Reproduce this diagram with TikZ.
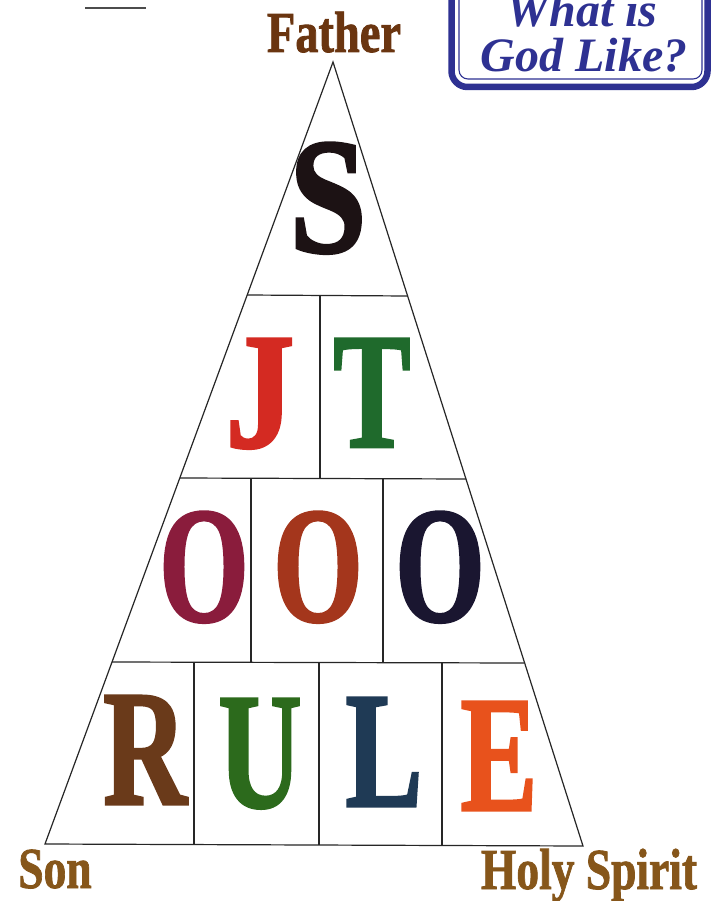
\documentclass[tikz,border=0pt]{standalone}
\usepackage{fontspec}
\setmainfont{Liberation Serif}
\newfontfamily\heavyserif{Liberation Serif}[BoldFeatures={FakeBold=1.8}]
\newfontfamily\labelserif{Liberation Serif}[BoldFeatures={FakeBold=1.5}]
\usetikzlibrary{calc}
\definecolor{titleblue}{HTML}{2E3192}
\definecolor{fatherbrown}{HTML}{6A3510}
\definecolor{labelbrown}{HTML}{86561A}
\definecolor{cS}{HTML}{1C1214}
\definecolor{cJ}{HTML}{D42A22}
\definecolor{cT}{HTML}{1F6A2C}
\definecolor{cOa}{HTML}{8A1C3C}
\definecolor{cOb}{HTML}{A4361C}
\definecolor{cOc}{HTML}{1A1630}
\definecolor{cR}{HTML}{6A3A1A}
\definecolor{cU}{HTML}{2C6A1C}
\definecolor{cL}{HTML}{1F3A55}
\definecolor{cE}{HTML}{E8521C}
\tikzset{
  bigletter/.style={anchor=base, inner sep=0pt, xscale=0.7,
    font=\heavyserif\bfseries\fontsize{165}{165}\selectfont},
  cornerlabel/.style={anchor=base, inner sep=0pt, xscale=0.8,
    font=\labelserif\bfseries\fontsize{58}{58}\selectfont},
  gridline/.style={draw=black!85, line width=1.2pt},
  titletext/.style={anchor=base, inner sep=0pt, text=titleblue,
    font=\bfseries\itshape\fontsize{48}{48}\selectfont}
}
\begin{document}
\begin{tikzpicture}[x=1pt,y=-1pt]
\useasboundingbox (0,0) rectangle (714,901);
\fill[white] (0,0) rectangle (714,901);

% stray scan mark
\draw[black!70, line width=1.2pt] (85,8) -- (146,8);

% triangle
\coordinate (apex) at (333,62);
\coordinate (bl) at (45,844);
\coordinate (br) at (583,846);
\coordinate (l1) at (247,295);
\coordinate (r1) at (407,296);
\coordinate (l2) at (180,478);
\coordinate (r2) at (466,479);
\coordinate (l3) at (112,662);
\coordinate (r3) at (524,663);
\draw[gridline, line join=miter] (apex) -- (bl) -- (br) -- cycle;
\draw[gridline] (l1) -- (r1);
\draw[gridline] (l2) -- (r2);
\draw[gridline] (l3) -- (r3);
% vertical dividers
\draw[gridline] (320,295.5) -- (320,478.5);
\draw[gridline] (251,478.5) -- (251,662.5);
\draw[gridline] (383,478.5) -- (383,662.5);
\draw[gridline] (194,662.5) -- (194,844.5);
\draw[gridline] (319,662.5) -- (319,845);
\draw[gridline] (442,662.5) -- (442,845.5);

% letters
\node[bigletter, xscale=1.2, text=cS] (S) at (328,252) {S};
\node[bigletter, xscale=1.2, text=cJ] (J) at (260,447) {J};
\node[bigletter, text=cT] (T) at (372,447) {T};
\node[bigletter, text=cOa] (O1) at (204,621) {O};
\node[bigletter, text=cOb] (O2) at (318,621) {O};
\node[bigletter, text=cOc] (O3) at (440,621) {O};
\node[bigletter, text=cR] (R) at (145,804) {R};
\node[bigletter, text=cU] (U) at (260,807) {U};
\node[bigletter, text=cL] (L) at (384,806) {L};
\node[bigletter, text=cE] (E) at (499,810) {E};

% corner labels
\node[cornerlabel, xscale=1.0, text=fatherbrown] (father) at (334,52) {Father};
\node[cornerlabel, xscale=0.98, text=labelbrown] (son) at (55,888) {Son};
\node[cornerlabel, xscale=0.98, text=labelbrown] (spirit) at (589,889) {Holy Spirit};

% title box
\begin{scope}
\clip (0,0) rectangle (714,901);
\draw[titleblue, line width=6.5pt, fill=white, rounded corners=16pt]
  (451.5,-30) rectangle (707.5,87);
\draw[titleblue, line width=1.1pt, rounded corners=9pt]
  (459,-30) rectangle (702,79);
\node[titletext] (what) at (582,27) {What is};
\node[titletext] (god) at (584,72) {God Like?};
\end{scope}
\end{tikzpicture}
\end{document}
